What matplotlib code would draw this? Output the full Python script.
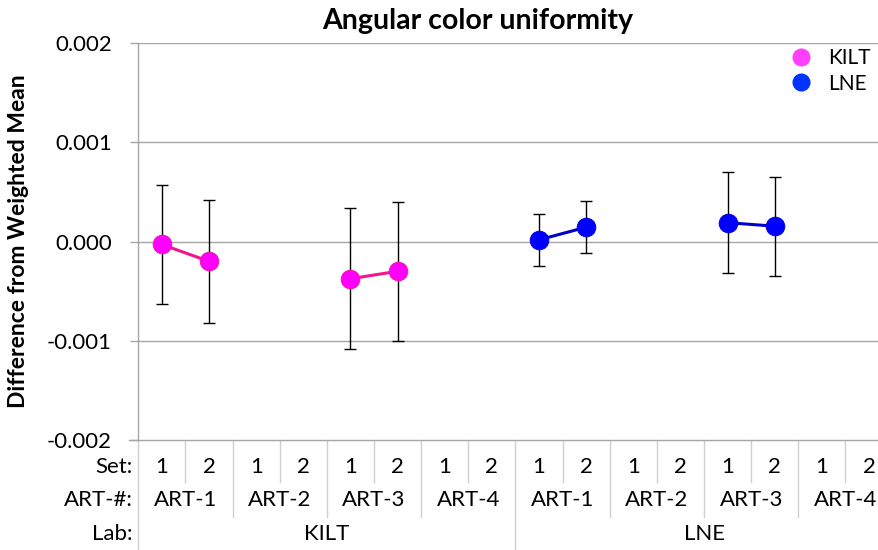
import matplotlib.pyplot as plt
from matplotlib.lines import Line2D
import matplotlib.transforms as mtransforms

plt.rcParams['font.family'] = ['Lato', 'DejaVu Sans']

labs = ['KILT', 'LNE']
arts = ['ART-1', 'ART-2', 'ART-3', 'ART-4']
sets = ['1', '2']

# difference from weighted mean per (lab, art) -> [set1, set2]; None = no data
kilt_vals = {'ART-1': [-0.00003, -0.00020], 'ART-3': [-0.000375, -0.00030]}
kilt_err = {'ART-1': [0.00060, 0.00062], 'ART-3': [0.00071, 0.00070]}
lne_vals = {'ART-1': [0.000017, 0.000144], 'ART-3': [0.00019, 0.000154]}
lne_err = {'ART-1': [0.00026, 0.00026], 'ART-3': [0.00051, 0.00050]}

fig = plt.figure(figsize=(8.79, 5.5), dpi=100)
ax = fig.add_axes([138.3/879, 0.2, 754.3/879, 0.7218])

grid_c = '#A6A6A6'
sep_c = '#D0D0D0'
fs = 16

def x_of(lab_i, art_i, set_i):
    return lab_i*8 + art_i*2 + set_i

series = [(0, kilt_vals, kilt_err, '#FF00FF', '#F0168C'),
          (1, lne_vals, lne_err, '#0000FF', '#0000CC')]
for lab_i, vals, errs, mc, lc in series:
    for art, v in vals.items():
        a = arts.index(art)
        xs = [x_of(lab_i, a, 0), x_of(lab_i, a, 1)]
        ax.errorbar(xs, v, yerr=errs[art], fmt='none', ecolor='black',
                    elinewidth=1, capsize=4, capthick=1, zorder=2)
        ax.plot(xs, v, color=lc, lw=2.2, zorder=3)
        ax.plot(xs, v, 'o', color=mc, markeredgecolor=lc, markeredgewidth=0.6,
                markersize=13.5, zorder=4)

ax.set_xlim(-0.5, 15.5)
ax.set_ylim(-0.002, 0.002)
ax.set_yticks([-0.002, -0.001, 0, 0.001, 0.002])
ax.set_yticklabels(['-0.002', '-0.001', '0.000', '0.001', '0.002'], fontsize=fs)
ax.tick_params(axis='y', direction='out', length=6, width=1, color=grid_c, pad=13)
ax.set_xticks([])
for y in [-0.001, 0, 0.001, 0.002]:
    ax.axhline(y, color=grid_c, lw=1, zorder=0)
for s in ['top', 'right']:
    ax.spines[s].set_visible(False)
for s in ['left', 'bottom']:
    ax.spines[s].set_color(grid_c)
    ax.spines[s].set_linewidth(1)

# multi-level category axis underneath
tr = mtransforms.blended_transform_factory(ax.transData, ax.transAxes)
def py(p):
    return (440 - p) / 397.0

row_px = [467, 500, 534]
row_y = [py(p) for p in row_px]
for i, name in enumerate(['Set:', 'ART-#:', 'Lab:']):
    fig.text(133/879, (550 - row_px[i])/550, name, ha='right',
             va='center', fontsize=fs)

for lab_i, lab in enumerate(labs):
    for a, art in enumerate(arts):
        for s, st in enumerate(sets):
            ax.text(x_of(lab_i, a, s), row_y[0], st, transform=tr,
                    ha='center', va='center', fontsize=fs, clip_on=False)
        ax.text(x_of(lab_i, a, 0) + 0.5, row_y[1], art, transform=tr,
                ha='center', va='center', fontsize=fs)
        ax.plot([x_of(lab_i, a, 0) + 0.5]*2, [0, py(482)], transform=tr,
                color=sep_c, lw=1, clip_on=False)
        if a > 0:
            ax.plot([x_of(lab_i, a, 0) - 0.5]*2, [0, py(517)], transform=tr,
                    color=sep_c, lw=1, clip_on=False)
    ax.text(lab_i*8 + 3.5, row_y[2], lab, transform=tr,
            ha='center', va='center', fontsize=fs)
    ax.plot([lab_i*8 - 0.5]*2, [0, py(552)], transform=tr,
            color=sep_c, lw=1, clip_on=False)
ax.plot([-0.7, -0.5], [0, 0], transform=tr, color=grid_c, lw=1, clip_on=False)

fig.text(478/879, 0.962, 'Angular color uniformity', ha='center', va='center',
         fontsize=20.5, fontweight='bold')
fig.text(19/879, 0.562, 'Difference from Weighted Mean', rotation=90,
         ha='center', va='center', fontsize=16.5, fontweight='bold')

handles = [Line2D([], [], ls='none', marker='o', color='#FF40FF', markersize=12),
           Line2D([], [], ls='none', marker='o', color='#0033FF', markersize=12)]
fig.legend(handles, labs, loc='upper left', bbox_to_anchor=(780/879, 1 - 40/550),
           frameon=False, fontsize=15, handletextpad=0.7, labelspacing=0.25,
           handlelength=1.2, borderaxespad=0)

fig.savefig('out.png', dpi=100)
